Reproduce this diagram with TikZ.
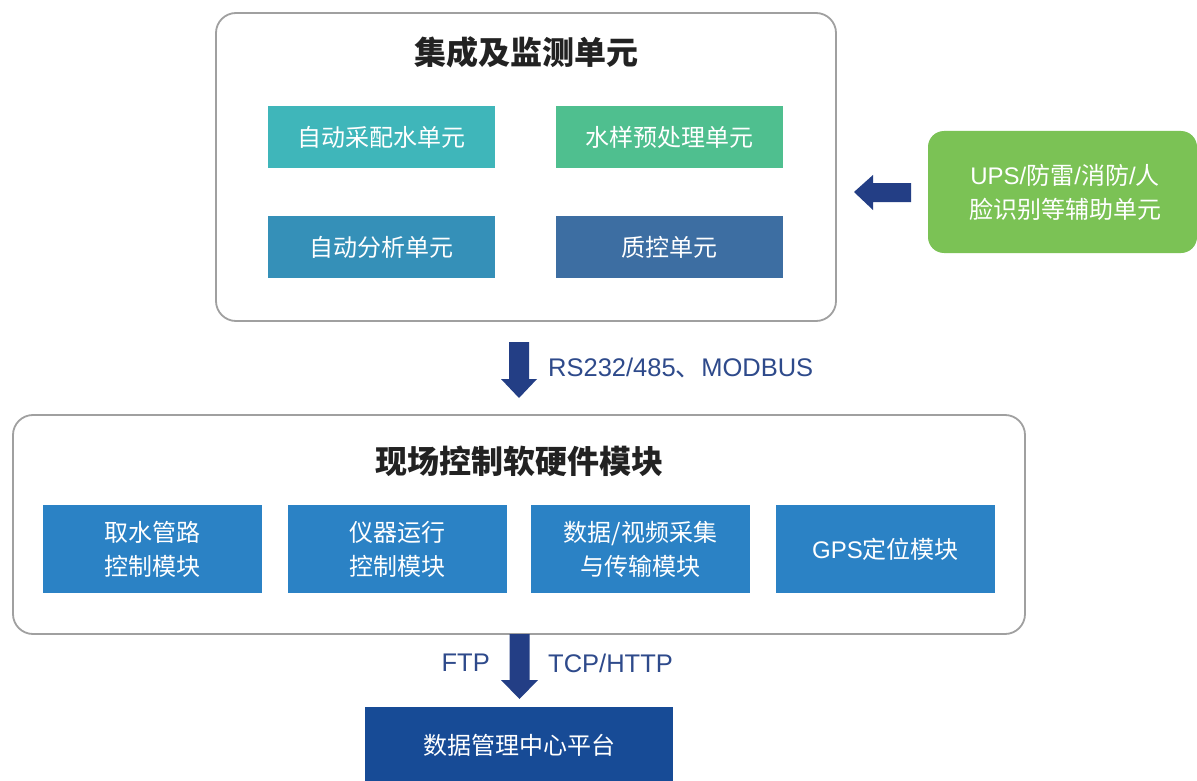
\documentclass[tikz,border=0pt]{standalone}
\usepackage{fontspec}
\setmainfont{Liberation Sans}
\newfontfamily\cjk{Noto Sans CJK SC}
\definecolor{frame}{HTML}{A0A0A0}
\definecolor{cA}{HTML}{3FB6BA}
\definecolor{cB}{HTML}{4FBF8F}
\definecolor{cC}{HTML}{3590B8}
\definecolor{cD}{HTML}{3D6EA2}
\definecolor{cUPS}{HTML}{7BC255}
\definecolor{cMod}{HTML}{2B82C5}
\definecolor{cPlat}{HTML}{174B96}
\definecolor{cArrow}{HTML}{233E85}
\definecolor{cLabel}{HTML}{2E4A8B}
\definecolor{cTitle}{HTML}{222222}
\begin{document}
\begin{tikzpicture}[x=1pt,y=-1pt,
  outer/.style={draw=frame,line width=1.8pt,rounded corners=20pt,fill=white},
  unit/.style={inner sep=0pt,minimum height=62pt,minimum width=227pt,text=white,
    font=\cjk\fontsize{24}{34}\selectfont,align=center},
  module/.style={fill=cMod,inner sep=0pt,minimum height=88pt,minimum width=219pt,text=white,
    font=\cjk\fontsize{24}{34}\selectfont,align=center},
  titletext/.style={text=cTitle,font=\cjk\bfseries\fontsize{32}{38}\selectfont},
  labeltext/.style={text=cLabel,font=\fontsize{25.5}{30}\selectfont,inner sep=0pt},
  blockarrow/.style={fill=cArrow,draw=none}]
\useasboundingbox (0,0) rectangle (1197,781);
\fill[white] (0,0) rectangle (1197,781);

% top group
\draw[outer] (216,13) rectangle (836,321);
\node[titletext] (toptitle) at (526,52) {集成及监测单元};
\node[unit,fill=cA] (u1) at (381.5,137) {自动采配水单元};
\node[unit,fill=cB] (u2) at (669.5,137) {水样预处理单元};
\node[unit,fill=cC] (u3) at (381.5,247) {自动分析单元};
\node[unit,fill=cD] (u4) at (669.5,247) {质控单元};

% UPS box
\fill[cUPS,rounded corners=16pt] (928,131) rectangle (1197,253);
\node[text=white,font=\fontsize{24}{34}\selectfont,align=center,inner sep=0pt] (ups) at (1065,192)
  {UPS/{\cjk 防雷}/{\cjk 消防}/{\cjk 人}\\{\cjk 脸识别等辅助单元}};

% left arrow
\coordinate (la) at (854,192);
\fill[blockarrow] (la) -- ++(19,-17) -- ++(0,8) -- ++(38,0) -- ++(0,19) -- ++(-38,0) -- ++(0,8) -- cycle;

% arrow 1
\coordinate (a1) at (519,398);
\fill[blockarrow] (a1) -- ++(-18,-19) -- ++(8,0) -- ++(0,-37) -- ++(20,0) -- ++(0,37) -- ++(8,0) -- cycle;
\node[labeltext,anchor=west] (l1) at (548,368) {RS232/485{\cjk 、}MODBUS};

% middle group
\draw[outer] (13,415) rectangle (1025,634);
\node[titletext] (midtitle) at (519,461) {现场控制软硬件模块};
\node[module] (m1) at (152.5,549) {取水管路\\控制模块};
\node[module] (m2) at (397,549) {仪器运行\\控制模块};
\node[module] (m3) at (640.5,549) {数据/视频采集\\与传输模块};
\node[module] (m4) at (885.5,549) {{\rmfamily GPS}定位模块};

% arrow 2
\coordinate (a2) at (519.5,699);
\fill[blockarrow] (a2) -- ++(-18.5,-19) -- ++(8.5,0) -- ++(0,-46) -- ++(20,0) -- ++(0,46) -- ++(8.5,0) -- cycle;
\node[labeltext,anchor=east] (l2) at (490,663) {FTP};
\node[labeltext,anchor=west] (l3) at (548,663) {TCP/HTTP};

% platform
\node[fill=cPlat,inner sep=0pt,minimum width=308pt,minimum height=76pt,anchor=north] (plat) at (519,707) {};
\node[text=white,font=\cjk\fontsize{24}{30}\selectfont] (plattext) at (519,745) {数据管理中心平台};
\end{tikzpicture}
\end{document}
